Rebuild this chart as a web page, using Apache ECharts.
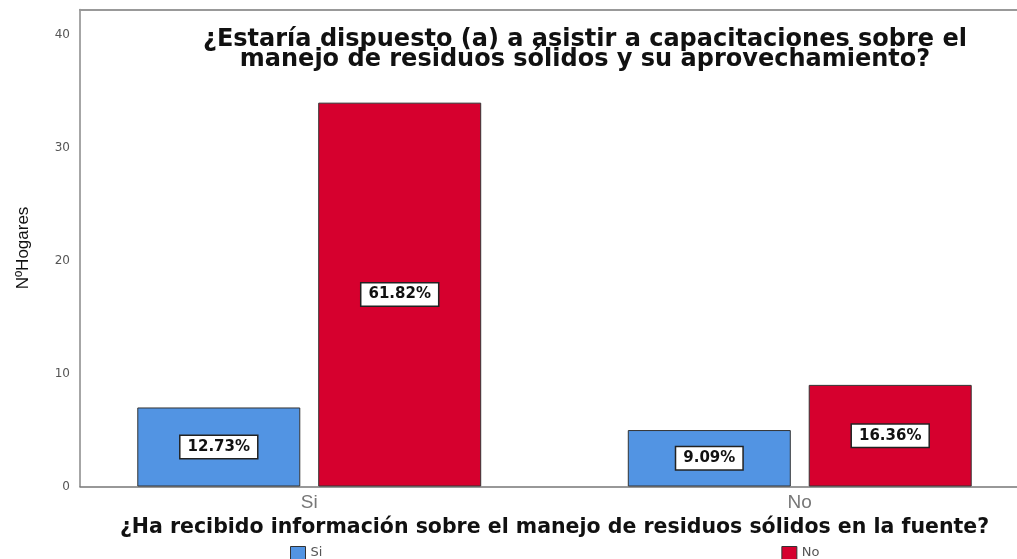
<!DOCTYPE html>
<html>
<head>
<meta charset="utf-8">
<script src="https://cdn.jsdelivr.net/npm/echarts@6/dist/echarts.min.js"></script>
<style>
  html, body { margin: 0; padding: 0; background: #fff; }
  #chart { width: 1017px; height: 559px; }
</style>
</head>
<body>
<div id="chart"></div>
<script>
const categories = ['Si', 'No'];
const siValues = [7, 5];
const noValues = [34, 9];
const siLabels = ['12.73%', '9.09%'];
const noLabels = ['61.82%', '16.36%'];
const yTicks = [0, 10, 20, 30, 40];

const wideFont = 'DejaVu Sans, Verdana, sans-serif';
const chart = echarts.init(document.getElementById('chart'));

const labelStyle = (texts) => ({
  show: true,
  position: 'inside',
  formatter: (p) => texts[p.dataIndex],
  backgroundColor: '#fff',
  borderColor: '#222',
  borderWidth: 1.5,
  padding: [4, 7, 3, 7],
  color: '#111',
  fontWeight: 'bold',
  fontSize: 15,
  fontFamily: wideFont
});

chart.setOption({
  animation: false,
  textStyle: { fontFamily: 'Liberation Sans, Arial, sans-serif' },
  title: {
    text: '¿Estaría dispuesto (a) a asistir a capacitaciones sobre el\nmanejo de residuos sólidos y su aprovechamiento?',
    left: 580,
    textAlign: 'center',
    top: 25,
    textStyle: { fontSize: 24, fontWeight: 'bold', color: '#111', lineHeight: 20, fontFamily: wideFont }
  },
  legend: {
    data: categories,
    left: 285,
    top: 541,
    itemGap: 459,
    itemWidth: 15,
    itemHeight: 13,
    icon: 'rect',
    itemStyle: { borderColor: '#333', borderWidth: 1 },
    textStyle: { color: '#555', fontSize: 13, fontFamily: wideFont }
  },
  grid: [
    { left: 80, right: 0, top: 9.5, bottom: 72.5, outerBoundsMode: 'none' },
    { left: 64, width: 981, top: 9.5, bottom: 72.5, outerBoundsMode: 'none' }
  ],
  xAxis: [
    {
      gridIndex: 0, type: 'value', min: 0, max: 1, position: 'bottom',
      axisLine: { show: true, lineStyle: { color: '#777', width: 1.5 } },
      axisTick: { show: false }, axisLabel: { show: false }, splitLine: { show: false }
    },
    {
      gridIndex: 0, type: 'value', min: 0, max: 1, position: 'top',
      axisLine: { show: true, lineStyle: { color: '#999', width: 2 } },
      axisTick: { show: false }, axisLabel: { show: false }, splitLine: { show: false }
    },
    {
      gridIndex: 1, type: 'category', data: categories,
      axisLine: { show: false }, axisTick: { show: false },
      axisLabel: { color: '#777', fontSize: 19, margin: 7 },
      name: '¿Ha recibido información sobre el manejo de residuos sólidos en la fuente?',
      nameLocation: 'middle',
      nameGap: 29,
      nameTextStyle: { color: '#111', fontSize: 20.5, fontWeight: 'bold', fontFamily: wideFont }
    }
  ],
  yAxis: [
    {
      gridIndex: 0, type: 'value', min: 0, max: 42.25, interval: 10,
      axisLine: { show: true, lineStyle: { color: '#888', width: 1.5 } },
      axisTick: { show: false },
      splitLine: { show: false },
      axisLabel: {
        color: '#555', fontSize: 12, margin: 10, showMaxLabel: false, fontFamily: wideFont,
        formatter: (v) => (yTicks.includes(v) ? String(v) : '')
      },
      name: 'NºHogares',
      nameLocation: 'middle',
      nameGap: 48,
      nameRotate: 90,
      nameTextStyle: { color: '#111', fontSize: 17 }
    },
    {
      gridIndex: 1, type: 'value', min: 0, max: 42.25, show: false
    }
  ],
  series: [
    {
      name: 'Si', type: 'bar', xAxisIndex: 2, yAxisIndex: 1,
      data: siValues, barWidth: 163, barGap: '11%',
      itemStyle: { color: '#5294e3', borderColor: '#333', borderWidth: 1 },
      label: labelStyle(siLabels)
    },
    {
      name: 'No', type: 'bar', xAxisIndex: 2, yAxisIndex: 1,
      data: noValues, barWidth: 163, barGap: '11%',
      itemStyle: { color: '#d6002e', borderColor: '#333', borderWidth: 1 },
      label: labelStyle(noLabels)
    }
  ]
});
</script>
</body>
</html>
